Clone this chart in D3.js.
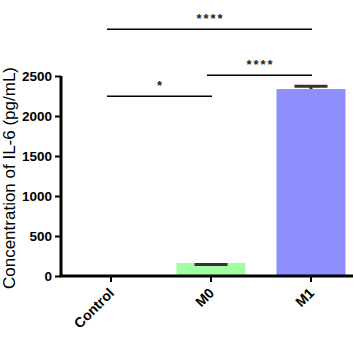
<!DOCTYPE html>
<html><head><meta charset="utf-8">
<script src="https://cdn.jsdelivr.net/npm/d3@7"></script>
<style>body{margin:0;background:#fff}svg{display:block}text{font-family:"Liberation Sans",Arial,sans-serif}</style>
</head><body><svg id="c" width="353" height="353"></svg>
<script>
const categories = ["Control", "M0", "M1"];
const means = [0, 162, 2337];
const errMean = [0, 145, 2337];
const errHigh = [0, 145, 2371];
const barColors = ["#ffffff", "#a0ffa0", "#8f8fff"];
const yTicks = [0, 500, 1000, 1500, 2000, 2500];
const sigPairs = [["Control", "M1", "****", 3084], ["M0", "M1", "****", 2509], ["Control", "M0", "*", 2246]];
const yLabel = "Concentration of IL-6 (pg/mL)";

const svg = d3.select("#c");
const x = d3.scaleBand().domain(categories).range([61, 361]).paddingInner(0.31).paddingOuter(0.155);
const y = d3.scaleLinear().domain([0, 2500]).range([276, 76]);

// bars
svg.selectAll("rect.bar").data(categories).enter().append("rect")
  .attr("x", d => x(d)).attr("width", x.bandwidth())
  .attr("y", (d, i) => y(means[i])).attr("height", (d, i) => y(0) - y(means[i]))
  .attr("fill", (d, i) => barColors[i]);

// error bars
categories.forEach((c, i) => {
  if (means[i] <= 0) return;
  const cx = x(c) + x.bandwidth() / 2;
  const g = svg.append("g").attr("stroke", "#333").attr("stroke-width", 3);
  if (errHigh[i] > errMean[i]) {
    g.append("line").attr("x1", cx).attr("x2", cx).attr("y1", y(errHigh[i])).attr("y2", y(errMean[i]));
  }
  g.append("line").attr("x1", cx - 16.5).attr("x2", cx + 16.5).attr("y1", y(errHigh[i])).attr("y2", y(errHigh[i]));
});

// axes
const yAxis = d3.axisLeft(y).tickValues(yTicks).tickSize(6).tickPadding(3).tickFormat(d3.format("d"));
const ga = svg.append("g").attr("transform", "translate(61,0)").call(yAxis);
ga.select(".domain").attr("stroke-width", 3).attr("d", "M0,76V277");
ga.selectAll(".tick line").attr("stroke-width", 2);
ga.selectAll("text").attr("font-size", 13.5).attr("font-weight", "bold").attr("fill", "#000");

const xAxis = d3.axisBottom(x).tickSize(6).tickPadding(4);
const gx = svg.append("g").attr("transform", "translate(0,276)").call(xAxis);
gx.select(".domain").attr("stroke-width", 3).attr("d", "M59.5,0H353");
gx.selectAll(".tick line").attr("stroke-width", 2).attr("y1", 1);
gx.selectAll("text").attr("font-size", 14).attr("font-weight", "bold").attr("fill", "#000")
  .attr("text-anchor", "end").attr("dy", null)
  .attr("transform", "translate(4,18) rotate(-45)").attr("y", 0).attr("x", 0);

// significance
sigPairs.forEach(([a, b, s, v]) => {
  const x1 = x(a) + x.bandwidth() / 2 - 4, x2 = x(b) + x.bandwidth() / 2 + 1;
  svg.append("line").attr("x1", x1).attr("x2", x2).attr("y1", y(v)).attr("y2", y(v))
    .attr("stroke", "#000").attr("stroke-width", 1.4);
  svg.append("text").attr("x", (x1 + x2) / 2 + 1).attr("y", y(v) - 6.5).attr("text-anchor", "middle")
    .attr("font-size", 13).attr("font-weight", "bold").attr("letter-spacing", 2).attr("fill", "#222").text(s);
});

// y label
svg.append("text").attr("transform", "translate(15,178) rotate(-90)").attr("text-anchor", "middle")
  .attr("font-size", 17).attr("fill", "#000").text(yLabel);
</script></body></html>
